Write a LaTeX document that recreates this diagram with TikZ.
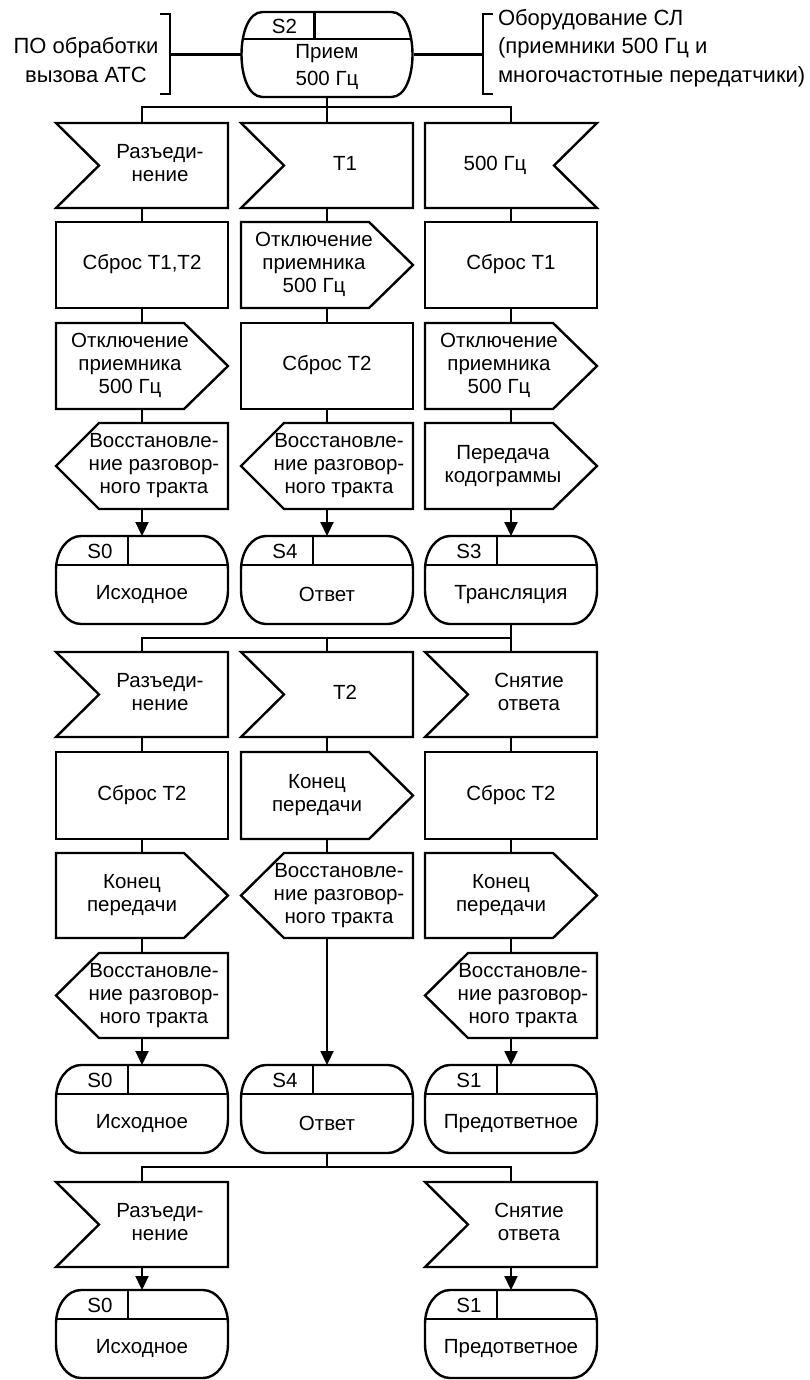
\documentclass[tikz,border=0pt]{standalone}
\usepackage{fontspec}
\setmainfont{Liberation Sans}
\usetikzlibrary{arrows.meta}
\newcommand\txC[1]{\begin{tabular}{@{}c@{}}#1\end{tabular}}
\newcommand\txR[2]{\hspace*{#1pt}\hspace*{#1pt}\begin{tabular}{@{}c@{}}#2\end{tabular}}
\newcommand\txL[2]{\begin{tabular}{@{}c@{}}#2\end{tabular}\hspace*{#1pt}\hspace*{#1pt}}
\newcommand\notchL[1]{\draw[ln] (#1.north west) -- (#1.north east) -- (#1.south east) -- (#1.south west) -- ([xshift=43pt]#1.west) -- cycle;}
\newcommand\notchR[1]{\draw[ln] (#1.north west) -- (#1.north east) -- ([xshift=-43pt]#1.east) -- (#1.south east) -- (#1.south west) -- cycle;}
\newcommand\outR[1]{\draw[ln] (#1.north west) -- ([xshift=-44pt]#1.north east) -- (#1.east) -- ([xshift=-44pt]#1.south east) -- (#1.south west) -- cycle;}
\newcommand\outL[1]{\draw[ln] (#1.west) -- ([xshift=43pt]#1.north west) -- (#1.north east) -- (#1.south east) -- ([xshift=43pt]#1.south west) -- cycle;}
% state outline with elliptical corners (rx 25, ry 34)
\newcommand\stoutline[1]{%
  \draw[ln] ([xshift=25pt]#1.north west) -- ([xshift=-25pt]#1.north east)
    .. controls ([xshift=-11.2pt]#1.north east) and ([yshift=-15.2pt]#1.north east) .. ([yshift=-34pt]#1.north east)
    -- ([yshift=34pt]#1.south east)
    .. controls ([yshift=15.2pt]#1.south east) and ([xshift=-11.2pt]#1.south east) .. ([xshift=-25pt]#1.south east)
    -- ([xshift=25pt]#1.south west)
    .. controls ([xshift=11.2pt]#1.south west) and ([yshift=15.2pt]#1.south west) .. ([yshift=34pt]#1.south west)
    -- ([yshift=-34pt]#1.north west)
    .. controls ([yshift=-15.2pt]#1.north west) and ([xshift=11.2pt]#1.north west) .. cycle;}
\newcommand\stnode[5]{%
  \node[statebox] (#1) at (#2,#3+44) {};
  \stoutline{#1}
  \draw[ln] ([xshift=0.4pt,yshift=-29pt]#1.north west) -- ([xshift=-0.4pt,yshift=-29pt]#1.north east);
  \draw[ln] ([xshift=72pt]#1.north west) -- ([xshift=72pt,yshift=-29pt]#1.north west);
  \node[txt] (#1s) at ([xshift=44pt,yshift=-15pt]#1.north west) {#4};
  \node[txt] (#1t) at ([yshift=-58.5pt]#1.north) {#5};
}
\begin{document}
\begin{tikzpicture}[x=1pt,y=-1pt,
  every node/.style={outer sep=0pt, inner sep=0pt},
  txt/.style={font=\fontsize{20.5}{23}\selectfont},
  otxt/.style={font=\fontsize{22}{28.5}\selectfont},
  blk/.style={txt, minimum width=172pt, minimum height=85pt},
  rbox/.style={blk, draw, line width=2.4pt},
  ln/.style={line width=2.4pt, line join=miter},
  con/.style={line width=2.2pt},
  arr/.style={con, -{Triangle[length=14pt,width=13pt]}},
  statebox/.style={minimum width=172pt, minimum height=88pt},
]
\fill[white] (0,0) rectangle (809,1380);
\useasboundingbox (0,0) rectangle (809,1380);

% ---- top state S2 ----
\node[minimum width=173pt, minimum height=85pt] (s2) at (327,54.5) {};
\draw[ln] ([xshift=22pt]s2.north west) -- ([xshift=-22pt]s2.north east)
  .. controls ([xshift=6pt]s2.north east) and ([xshift=6pt]s2.south east) .. ([xshift=-22pt]s2.south east)
  -- ([xshift=22pt]s2.south west)
  .. controls ([xshift=-6pt]s2.south west) and ([xshift=-6pt]s2.north west) .. cycle;
\draw[ln] ([xshift=2.5pt,yshift=-27pt]s2.north west) -- ([xshift=-2.5pt,yshift=-27pt]s2.north east);
\draw[ln] ([xshift=74pt]s2.north west) -- ([xshift=74pt,yshift=-27pt]s2.north west);
\node[txt] (s2s) at ([xshift=44pt,yshift=-14pt]s2.north west) {S2};
\node[txt] (s2t) at ([yshift=-55pt]s2.north) {\fontsize{20.5}{27}\selectfont\txC{Прием\\500 Гц}};

% side texts and brackets
\node[otxt, align=center] (po) at (86,60) {ПО обработки\\вызова АТС};
\node[otxt, align=left, anchor=west] (eq) at (498,48) {Оборудование СЛ\\(приемники 500 Гц и\\многочастотные передатчики)};
\coordinate (lb) at (170,54.5);
\coordinate (rb) at (483,54.5);
\draw[con] (160,14) -- (170,14) -- (170,94) -- (160,94);
\draw[con] (493,14) -- (483,14) -- (483,94) -- (493,94);
\draw[con] (lb) -- (s2.west);
\draw[con] (s2.east) -- (rb);

% ---- row 1 ----
\node[blk] (l1) at (142,165.5) {\txR{18}{Разъеди-\\нение}}; \notchL{l1}
\node[blk] (m1) at (327,165.5) {\txR{18}{T1}}; \notchL{m1}
\node[blk] (r1) at (511,165.5) {\txL{16}{500 Гц}}; \notchR{r1}
% ---- row 2 ----
\node[rbox, minimum height=86pt] (l2) at (142,265) {\txC{Сброс T1,T2}};
\node[blk, minimum height=86pt] (m2) at (327,265) {\txL{13}{Отключение\\приемника\\500 Гц}}; \outR{m2}
\node[rbox, minimum height=86pt] (r2) at (511,265) {\txC{Сброс T1}};
% ---- row 3 ----
\node[blk, minimum height=86pt] (l3) at (142,366) {\txL{12}{Отключение\\приемника\\500 Гц}}; \outR{l3}
\node[rbox, minimum height=86pt] (m3) at (327,366) {\txC{Сброс T2}};
\node[blk, minimum height=86pt] (r3) at (511,366) {\txL{12}{Отключение\\приемника\\500 Гц}}; \outR{r3}
% ---- row 4 ----
\node[blk, minimum height=86pt] (l4) at (142,466) {\txR{12}{Восстановле-\\ние разговор-\\ного тракта}}; \outL{l4}
\node[blk, minimum height=86pt] (m4) at (327,466) {\txR{12}{Восстановле-\\ние разговор-\\ного тракта}}; \outL{m4}
\node[blk, minimum height=86pt] (r4) at (511,466) {\txL{8}{Передача\\кодограммы}}; \outR{r4}
% ---- row 5 states ----
\stnode{l5}{142}{536}{S0}{Исходное}
\stnode{m5}{327}{536}{S4}{Ответ}
\stnode{r5}{511}{536}{S3}{Трансляция}
% ---- row 6 ----
\node[blk] (l6) at (142,694.5) {\txR{18}{Разъеди-\\нение}}; \notchL{l6}
\node[blk] (m6) at (327,694.5) {\txR{18}{T2}}; \notchL{m6}
\node[blk] (r6) at (511,694.5) {\txR{18}{Снятие\\ответа}}; \notchL{r6}
% ---- row 7 ----
\node[rbox, minimum height=87pt] (l7) at (142,795.5) {\txC{Сброс T2}};
\node[blk, minimum height=87pt] (m7) at (327,795.5) {\txL{10}{Конец\\передачи}}; \outR{m7}
\node[rbox, minimum height=87pt] (r7) at (511,795.5) {\txC{Сброс T2}};
% ---- row 8 ----
\node[blk] (l8) at (142,895.5) {\txL{10}{Конец\\передачи}}; \outR{l8}
\node[blk] (m8) at (327,895.5) {\txR{12}{Восстановле-\\ние разговор-\\ного тракта}}; \outL{m8}
\node[blk] (r8) at (511,895.5) {\txL{10}{Конец\\передачи}}; \outR{r8}
% ---- row 9 ----
\node[blk] (l9) at (142,995.5) {\txR{12}{Восстановле-\\ние разговор-\\ного тракта}}; \outL{l9}
\node[blk] (r9) at (511,995.5) {\txR{12}{Восстановле-\\ние разговор-\\ного тракта}}; \outL{r9}
% ---- row 10 states ----
\stnode{l10}{142}{1065}{S0}{Исходное}
\stnode{m10}{327}{1065}{S4}{Ответ}
\stnode{r10}{511}{1065}{S1}{Предответное}
% ---- row 11 ----
\node[blk] (l11) at (142,1224.5) {\txR{18}{Разъеди-\\нение}}; \notchL{l11}
\node[blk] (r11) at (511,1224.5) {\txR{18}{Снятие\\ответа}}; \notchL{r11}
% ---- row 12 states ----
\stnode{l12}{142}{1290}{S0}{Исходное}
\stnode{r12}{511}{1290}{S1}{Предответное}

% ---- connectors ----
\coordinate (b1) at (327,107);
\draw[con] (s2.south) -- (b1);
\draw[con] (l1.north) |- (b1) -| (r1.north);
\draw[con] (b1) -- (m1.north);
\foreach \c in {l,m,r}{
  \draw[con] (\c1.south) -- (\c2.north);
  \draw[con] (\c2.south) -- (\c3.north);
  \draw[con] (\c3.south) -- (\c4.north);
  \draw[arr] (\c4.south) -- (\c5.north);
}
\coordinate (b2) at (511,638);
\draw[con] (r5.south) -- (r6.north);
\draw[con] (l6.north) |- (b2);
\draw[con] (m6.north) |- (b2);
\foreach \c in {l,m,r}{
  \draw[con] (\c6.south) -- (\c7.north);
  \draw[con] (\c7.south) -- (\c8.north);
}
\draw[con] (l8.south) -- (l9.north);
\draw[arr] (l9.south) -- (l10.north);
\draw[arr] (m8.south) -- (m10.north);
\draw[con] (r8.south) -- (r9.north);
\draw[arr] (r9.south) -- (r10.north);
\coordinate (b3) at (327,1167);
\draw[con] (m10.south) -- (b3);
\draw[con] (l11.north) |- (b3) -| (r11.north);
\draw[arr] (l11.south) -- (l12.north);
\draw[arr] (r11.south) -- (r12.north);
\end{tikzpicture}
\end{document}
